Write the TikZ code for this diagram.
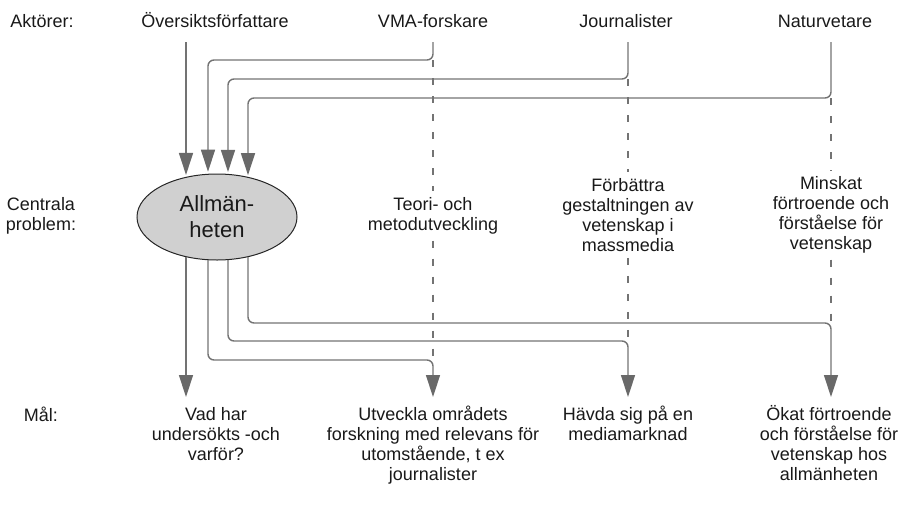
\documentclass[tikz,border=0pt]{standalone}
\usepackage{fontspec}
\setmainfont{Liberation Sans}
\usetikzlibrary{arrows.meta,shapes.geometric}
\definecolor{linegray}{RGB}{115,115,115}
\definecolor{arrgray}{RGB}{105,105,105}
\definecolor{ellfill}{RGB}{208,208,208}
\definecolor{txt}{RGB}{25,25,25}
\begin{document}
\begin{tikzpicture}[x=1pt,y=-1pt,
  lab/.style={font=\fontsize{18}{20}\selectfont, inner sep=0pt, align=center, text=txt},
  conn/.style={draw=linegray, line width=1.4pt, rounded corners=6pt, -{Triangle[length=22pt,width=14pt,fill=arrgray,color=arrgray]}},
  dsh/.style={draw=linegray, line width=1.2pt, dash pattern=on 7pt off 11pt},
  ellbox/.style={ellipse, draw=black!85, line width=1pt, fill=ellfill, minimum width=160pt, minimum height=86pt, inner sep=0pt, font=\fontsize{22}{26}\selectfont, align=center, text=txt}
]
\useasboundingbox (0,0) rectangle (899,504);

% row labels
\node[lab, anchor=base] (akt) at (42,27) {Aktörer:};
\node[lab] (cp) at (41,216) {Centrala\\problem:};
\node[lab, anchor=base] (mal) at (41,421) {Mål:};

% actors
\node[lab, anchor=base] (ov) at (215,27) {Översiktsförfattare};
\node[lab, anchor=base] (vma) at (433,27) {VMA-forskare};
\node[lab, anchor=base] (jou) at (626,27) {Journalister};
\node[lab, anchor=base] (nat) at (825,27) {Naturvetare};

% problems
\node[ellbox] (all) at (217,217) {Allmän-\\heten};
\node[lab] (teo) at (433,216) {Teori- och\\metodutveckling};
\node[lab] (forb) at (628,215) {Förbättra\\gestaltningen av\\vetenskap i\\massmedia};
\node[lab] (mins) at (831,215) {Minskat\\förtroende och\\förståelse för\\vetenskap};

% goals
\node[lab, anchor=north] (g1) at (216,405) {\rule{0pt}{15.5pt}Vad har\\undersökts -och\\varför?};
\node[lab, anchor=north] (g2) at (433,405) {\rule{0pt}{15.5pt}Utveckla områdets\\forskning med relevans för\\utomstående, t ex\\journalister};
\node[lab, anchor=north] (g3) at (628,405) {\rule{0pt}{15.5pt}Hävda sig på en\\mediamarknad};
\node[lab, anchor=north] (g4) at (829,405) {\rule{0pt}{15.5pt}Ökat förtroende\\och förståelse för\\vetenskap hos\\allmänheten};

% helper coordinates
\coordinate (ot) at (186,42);
\coordinate (vt) at (433,42);
\coordinate (jt) at (628,42);
\coordinate (nt) at (831,42);
\coordinate (h2) at (208,60);
\coordinate (h3) at (228,79);
\coordinate (h4) at (248,98);
\coordinate (c2) at (433,360);
\coordinate (c3) at (628,341);
\coordinate (c4) at (831,323);
\coordinate (t1) at (186,397);
\coordinate (t2) at (433,397);
\coordinate (t3) at (628,397);
\coordinate (t4) at (831,397);

% dashed column lines
\draw[dsh, shorten >=6pt] (h2 -| vt) -- (teo.north);
\draw[dsh, shorten <=6pt] (teo.south) -- (c2);
\draw[dsh, shorten >=6pt] (h3 -| jt) -- (forb.north);
\draw[dsh, shorten <=6pt] (forb.south) -- (c3);
\draw[dsh, shorten >=6pt] (h4 -| nt) -- (mins.north);
\draw[dsh, shorten <=6pt] (mins.south) -- (c4);

% actors -> Allmänheten
\draw[conn, shorten >=2pt] (ot) -- (ot |- all.128.1);
\draw[conn, shorten >=2pt] (vt) |- (h2) -- (h2 |- all.101.9);
\draw[conn, shorten >=2pt] (jt) |- (h3) -- (h3 |- all.75.5);
\draw[conn, shorten >=2pt] (nt) |- (h4) -- (h4 |- all.51.9);

% Allmänheten -> goals
\draw[conn] (ot |- all.231.9) -- (t1);
\draw[conn] (h2 |- all.258.1) |- (c2) -- (t2);
\draw[conn] (h3 |- all.284.5) |- (c3) -- (t3);
\draw[conn] (h4 |- all.308.1) |- (c4) -- (t4);
\end{tikzpicture}
\end{document}
